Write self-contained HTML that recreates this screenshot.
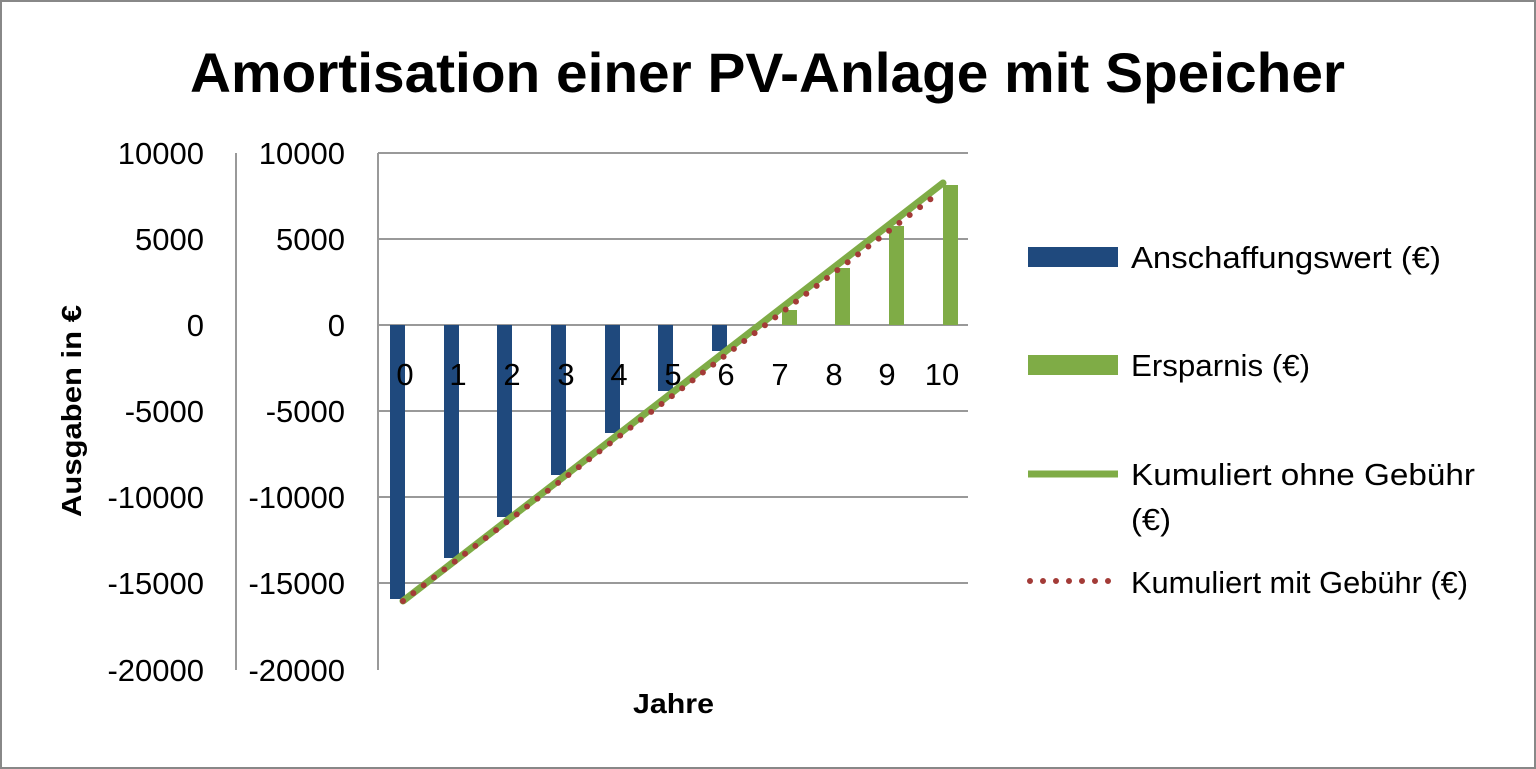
<!DOCTYPE html>
<html><head><meta charset="utf-8"><style>
body{margin:0;background:#fff}
svg{display:block;font-family:"Liberation Sans",sans-serif}
</style></head><body>
<svg width="1536" height="769" viewBox="0 0 1536 769">
<rect x="1" y="1" width="1534" height="767" fill="#fff" stroke="#888" stroke-width="2"/>
<text x="190" y="92" font-size="56" font-weight="bold" textLength="1155" lengthAdjust="spacingAndGlyphs">Amortisation einer PV-Anlage mit Speicher</text>
<g stroke="#999" stroke-width="2">
<line x1="378" y1="153" x2="968" y2="153"/>
<line x1="378" y1="239" x2="968" y2="239"/>
<line x1="378" y1="325" x2="968" y2="325"/>
<line x1="378" y1="411" x2="968" y2="411"/>
<line x1="378" y1="497" x2="968" y2="497"/>
<line x1="378" y1="583" x2="968" y2="583"/>
<line x1="378" y1="153" x2="378" y2="670"/>
<line x1="236" y1="153" x2="236" y2="670"/>
</g>
<g font-size="31" text-anchor="end">
<text x="204" y="164">10000</text><text x="204" y="250">5000</text><text x="204" y="336">0</text><text x="204" y="422">-5000</text><text x="204" y="508">-10000</text><text x="204" y="594">-15000</text><text x="204" y="681">-20000</text>
<text x="345" y="164">10000</text><text x="345" y="250">5000</text><text x="345" y="336">0</text><text x="345" y="422">-5000</text><text x="345" y="508">-10000</text><text x="345" y="594">-15000</text><text x="345" y="681">-20000</text>
</g>
<g fill="#1f497d">
<rect x="390" y="325" width="15" height="274"/>
<rect x="444" y="325" width="15" height="233"/>
<rect x="497" y="325" width="15" height="192"/>
<rect x="551" y="325" width="15" height="150"/>
<rect x="605" y="325" width="15" height="108"/>
<rect x="658" y="325" width="15" height="66"/>
<rect x="712" y="325" width="15" height="26"/>
</g>
<g fill="#7fac46">
<rect x="782" y="310" width="15" height="15"/>
<rect x="835" y="268" width="15" height="57"/>
<rect x="889" y="226" width="15" height="99"/>
<rect x="943" y="185" width="15" height="140"/>
</g>
<g font-size="31" text-anchor="middle">
<text x="405" y="385">0</text><text x="458" y="385">1</text><text x="512" y="385">2</text><text x="566" y="385">3</text><text x="619" y="385">4</text><text x="673" y="385">5</text><text x="726" y="385">6</text><text x="780" y="385">7</text><text x="834" y="385">8</text><text x="887" y="385">9</text><text x="942" y="385">10</text>
</g>
<line x1="403" y1="601" x2="943" y2="183" stroke="#7fac46" stroke-width="7" stroke-linecap="round"/>
<line x1="403" y1="601" x2="932" y2="198" stroke="#a33b37" stroke-width="6" stroke-linecap="round" stroke-dasharray="0 13"/>
<text x="633" y="713" font-size="28" font-weight="bold" textLength="81" lengthAdjust="spacingAndGlyphs">Jahre</text>
<text transform="translate(81,517) rotate(-90)" font-size="28" font-weight="bold" textLength="212" lengthAdjust="spacingAndGlyphs">Ausgaben in €</text>
<rect x="1028" y="247" width="90" height="20" fill="#1f497d"/>
<rect x="1028" y="355" width="90" height="20" fill="#7fac46"/>
<line x1="1028" y1="474" x2="1118" y2="474" stroke="#7fac46" stroke-width="7"/>
<line x1="1030" y1="581" x2="1118" y2="581" stroke="#a33b37" stroke-width="6" stroke-linecap="round" stroke-dasharray="0 13"/>
<g font-size="31">
<text x="1131" y="268" textLength="310" lengthAdjust="spacingAndGlyphs">Anschaffungswert (€)</text>
<text x="1131" y="376" textLength="179" lengthAdjust="spacingAndGlyphs">Ersparnis (€)</text>
<text x="1131" y="485" textLength="344" lengthAdjust="spacingAndGlyphs">Kumuliert ohne Gebühr</text>
<text x="1131" y="530" textLength="40" lengthAdjust="spacingAndGlyphs">(€)</text>
<text x="1131" y="593" textLength="337" lengthAdjust="spacingAndGlyphs">Kumuliert mit Gebühr (€)</text>
</g>
</svg>
</body></html>
